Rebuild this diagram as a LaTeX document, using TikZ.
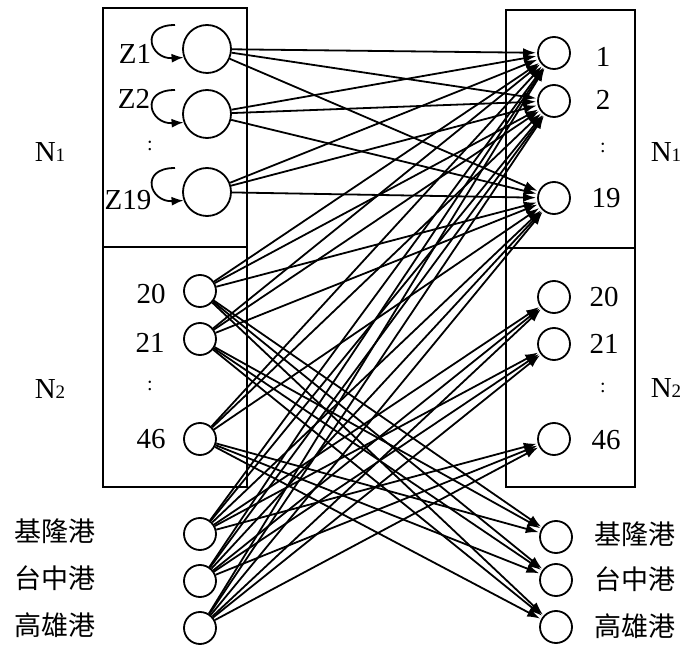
\documentclass[tikz,border=0pt]{standalone}
\usepackage{fontspec}
\setmainfont{Liberation Serif}
\newfontfamily\cjk{Noto Sans CJK TC}
\usetikzlibrary{arrows.meta}
\begin{document}
\begin{tikzpicture}[x=1pt,y=-1pt,
  big/.style={circle,draw,line width=1.8pt,minimum size=48pt,inner sep=0pt},
  sml/.style={circle,draw,line width=1.8pt,minimum size=32pt,inner sep=0pt},
  lbl/.style={font=\fontsize{29}{31}\selectfont,inner sep=0pt},
  dts/.style={font=\fontsize{20}{22}\selectfont,inner sep=0pt},
  clbl/.style={font=\cjk\fontsize{27}{30}\selectfont,inner sep=0pt},
  arr/.style={line width=1.8pt,-{Latex[length=13pt,width=9pt]},shorten >=1pt},
  lp/.style={line width=1.8pt,-{Latex[length=12pt,width=9pt]}},
  boxst/.style={draw,line width=2pt,inner sep=0pt}]
\useasboundingbox (0,0) rectangle (686,652);
% boxes
\node[boxst,minimum width=144pt,minimum height=479pt] (lbox) at (175,247.5) {};
\node[boxst,minimum width=129pt,minimum height=477pt] (rbox) at (570.5,248.5) {};
\draw[line width=2pt] (lbox.west |- 0,247) -- (lbox.east |- 0,247);
\draw[line width=2pt] (rbox.west |- 0,248) -- (rbox.east |- 0,248);
% left nodes
\node[big] (z1) at (207,49) {};
\node[big] (z2) at (207,114) {};
\node[big] (z19) at (207,192) {};
\node[sml] (l20) at (200,291) {};
\node[sml] (l21) at (200,339) {};
\node[sml] (l46) at (200,439) {};
\node[sml] (lk) at (200,534) {};
\node[sml] (lt) at (200,581) {};
\node[sml] (lg) at (200,628) {};
% right nodes
\node[sml] (r1) at (554,53) {};
\node[sml] (r2) at (554,101) {};
\node[sml] (r19) at (554,198) {};
\node[sml] (r20) at (554,297) {};
\node[sml] (r21) at (554,344) {};
\node[sml] (r46) at (554,439) {};
\node[sml] (rk) at (556,537) {};
\node[sml] (rt) at (556,580) {};
\node[sml] (rg) at (556,627) {};
% left labels
\node[lbl] (tz1) at (135,54) {Z1};
\node[lbl] (tz2) at (134,99) {Z2};
\node[dts] (td1) at (150,146) {:};
\node[lbl] (tz19) at (128,200) {Z19};
\node[lbl] (t20) at (151,294) {20};
\node[lbl] (t21) at (150,343) {21};
\node[dts] (td2) at (150,386) {:};
\node[lbl] (t46) at (151,439) {46};
\node[lbl] (nl1) at (50,152) {N{\fontsize{19}{20}\selectfont 1}};
\node[lbl] (nl2) at (50,389) {N{\fontsize{19}{20}\selectfont 2}};
\node[clbl] (tk) at (55,531) {基隆港};
\node[clbl] (tt) at (55,578) {台中港};
\node[clbl] (tg) at (55,625) {高雄港};
% right labels
\node[lbl] (s1) at (603,57) {1};
\node[lbl] (s2) at (603,100) {2};
\node[dts] (sd1) at (603,148) {:};
\node[lbl] (s19) at (606,198) {19};
\node[lbl] (s20) at (604,297) {20};
\node[lbl] (s21) at (604,344) {21};
\node[dts] (sd2) at (603,388) {:};
\node[lbl] (s46) at (606,440) {46};
\node[lbl] (nr1) at (666,152) {N{\fontsize{19}{20}\selectfont 1}};
\node[lbl] (nr2) at (666,388) {N{\fontsize{19}{20}\selectfont 2}};
\node[clbl] (uk) at (635,534) {基隆港};
\node[clbl] (ut) at (635,579) {台中港};
\node[clbl] (ug) at (635,626) {高雄港};
% self loops
\foreach \z in {z1,z2,z19}
  \draw[lp] ([shift={(-32,-24)}]\z.center) .. controls +(-36,0) and +(-34,2) .. (\z.200);
% connectors
\foreach \s in {z1,z2,z19,l20,l21,l46,lk,lt,lg}
  \foreach \t in {r1,r2,r19}
    \draw[arr] (\s) -- (\t);
\foreach \s in {l20,l21,l46}
  \foreach \t in {rk,rt,rg}
    \draw[arr] (\s) -- (\t);
\foreach \s in {lk,lt,lg}
  \foreach \t in {r20,r21,r46}
    \draw[arr] (\s) -- (\t);
\end{tikzpicture}
\end{document}
